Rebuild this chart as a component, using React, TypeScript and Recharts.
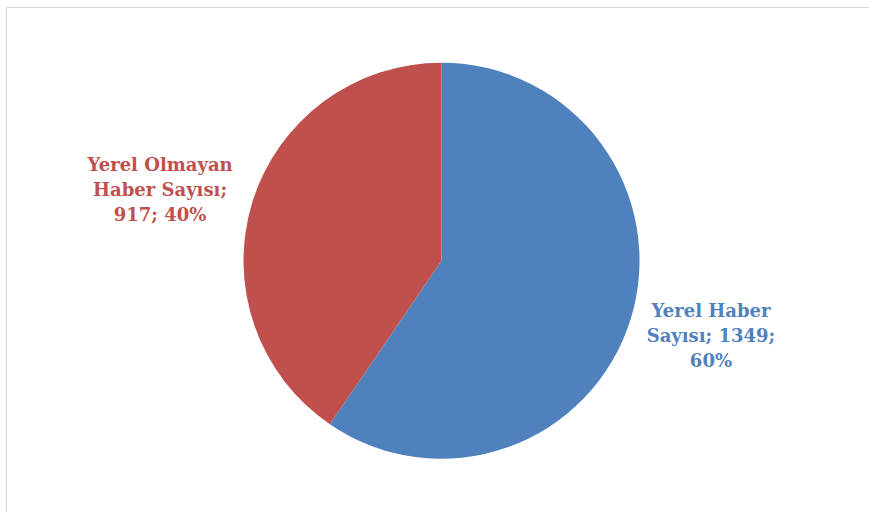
import { PieChart, Pie, Cell } from "recharts";

const categories = ["Yerel Haber Sayısı", "Yerel Olmayan Haber Sayısı"];
const values = [1349, 917];
const percents = ["60%", "40%"];
const colors = ["#4F81BD", "#C0504D"];

// label lines, split the way the original chart wraps them
const labelLines = [
    ["Yerel Haber", "Sayısı; 1349;", "60%"],
    ["Yerel Olmayan", "Haber Sayısı;", "917; 40%"],
];

const data = categories.map((name, i) => ({ name, value: values[i], percent: percents[i] }));

const RAD = Math.PI / 180;

function renderLabel(props: any) {
    const { cx, cy, midAngle, outerRadius, index } = props;
    const r = outerRadius + 84;
    let x = cx + r * Math.cos(-midAngle * RAD);
    let y = cy + r * Math.sin(-midAngle * RAD);
    // nudge like excel's best fit placement
    if (x > cx) {
        y -= 9;
    } else {
        x -= 12;
        y += 11;
    }
    const lines = labelLines[index];
    const lineH = 25;
    const top = y - ((lines.length - 1) * lineH) / 2;
    return (
        <text
            x={x}
            y={top}
            fill={colors[index]}
            textAnchor="middle"
            dominantBaseline="central"
            fontFamily="'DejaVu Serif', serif"
            fontWeight="bold"
            fontSize={18}
        >
            {lines.map((l, i) => (
                <tspan key={i} x={x} dy={i === 0 ? 0 : lineH}>{l}</tspan>
            ))}
        </text>
    );
}

export default function App() {
    return (
        <div style={{ position: "absolute", left: 0, top: 0, width: 869, height: 512, overflow: "hidden", background: "#fff" }}>
            <div style={{ position: "absolute", left: 6, top: 7, width: 900, height: 600, border: "1px solid #d9d9d9" }} />
            <div style={{ position: "absolute", left: 0, top: 0 }}>
                <PieChart width={869} height={512} margin={{ top: 0, right: 0, bottom: 0, left: 0 }}>
                    <Pie
                        data={data}
                        dataKey="value"
                        nameKey="name"
                        cx={441.5}
                        cy={260.7}
                        outerRadius={198}
                        startAngle={90}
                        endAngle={-270}
                        stroke="none"
                        label={renderLabel}
                        labelLine={false}
                        isAnimationActive={false}
                    >
                        {data.map((d, i) => (
                            <Cell key={d.name} fill={colors[i]} />
                        ))}
                    </Pie>
                </PieChart>
            </div>
        </div>
    );
}
